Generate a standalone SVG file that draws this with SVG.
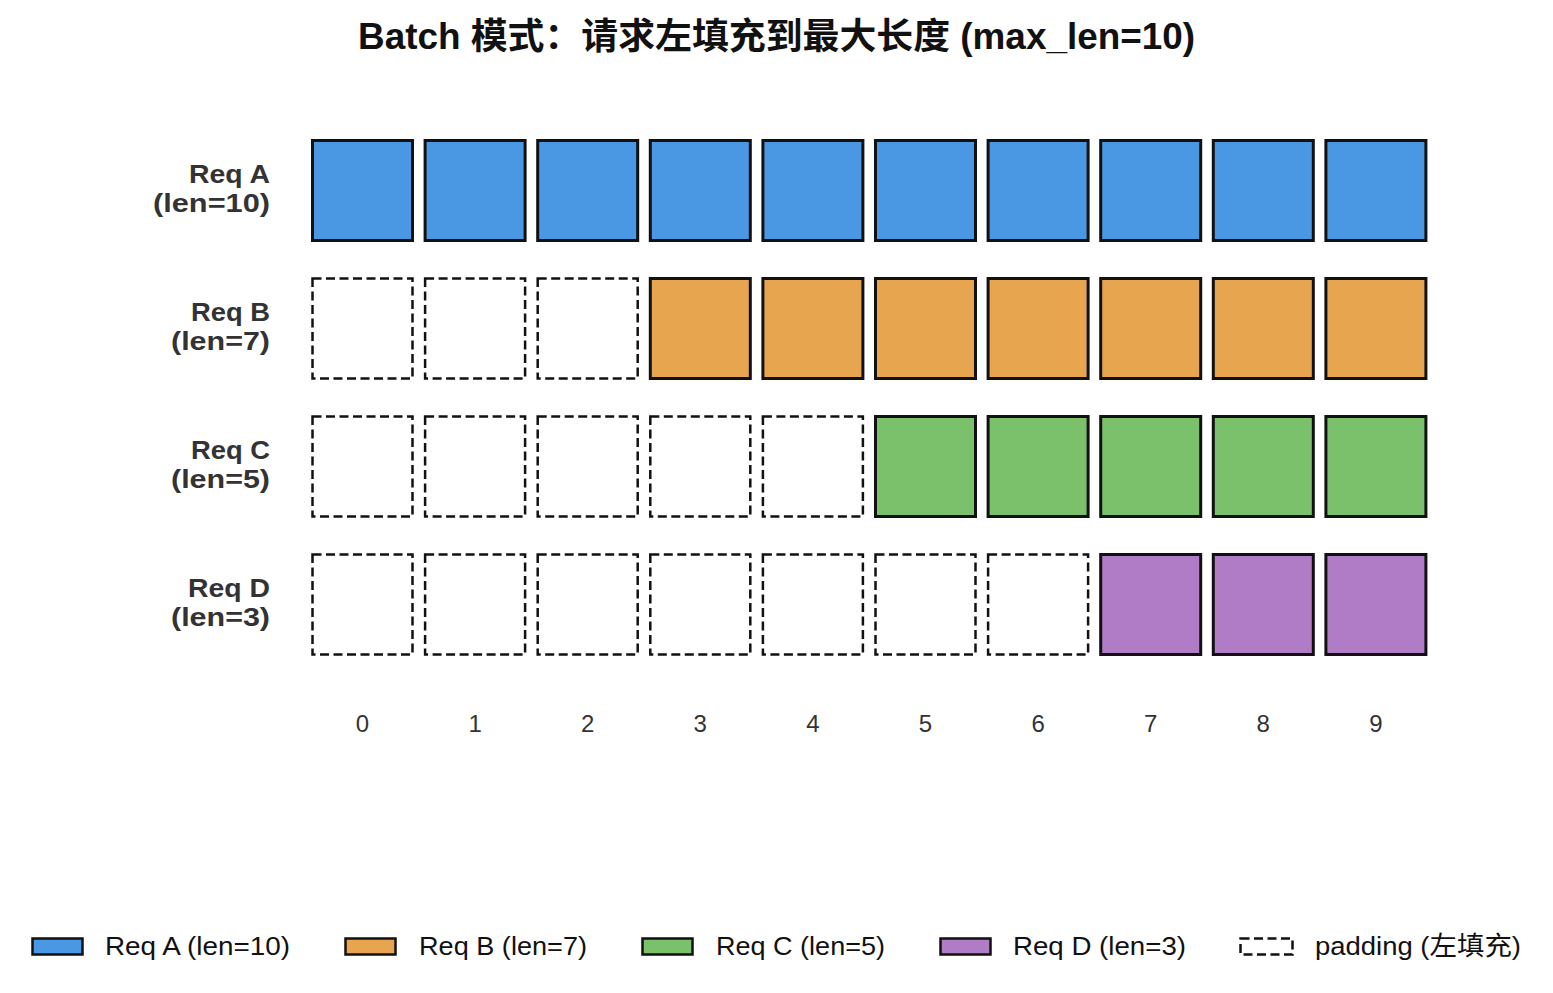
<svg xmlns="http://www.w3.org/2000/svg" width="1553" height="993" viewBox="0 0 1553 993">
<style>
text{font-family:"Liberation Sans","Noto Sans CJK SC",sans-serif}
.title{font-size:36px;font-weight:bold;fill:#111;text-anchor:middle}
.rl{font-size:26px;font-weight:bold;fill:#333;text-anchor:end}
.tick{font-size:24px;fill:#333;text-anchor:middle}
.lg{font-size:26px;fill:#111}
.c{stroke:#111;stroke-width:3}
.pad{fill:#fff;stroke:#111;stroke-width:2.5;stroke-dasharray:9 4.5}
.a{fill:#4A98E3}.b{fill:#E8A54F}.cc{fill:#7BC16B}.d{fill:#B07CC6}
</style>
<rect width="1553" height="993" fill="#fff"/>
<text class="title" x="776.5" y="49" textLength="837" lengthAdjust="spacingAndGlyphs">Batch 模式：请求左填充到最大长度 (max_len=10)</text>

<g id="labels">
<text class="rl" x="270" y="183" textLength="81" lengthAdjust="spacingAndGlyphs">Req A</text><text class="rl" x="270" y="212" textLength="117" lengthAdjust="spacingAndGlyphs">(len=10)</text>
<text class="rl" x="270" y="321" textLength="79" lengthAdjust="spacingAndGlyphs">Req B</text><text class="rl" x="270" y="350" textLength="99" lengthAdjust="spacingAndGlyphs">(len=7)</text>
<text class="rl" x="270" y="459" textLength="79" lengthAdjust="spacingAndGlyphs">Req C</text><text class="rl" x="270" y="488" textLength="99" lengthAdjust="spacingAndGlyphs">(len=5)</text>
<text class="rl" x="270" y="597" textLength="82" lengthAdjust="spacingAndGlyphs">Req D</text><text class="rl" x="270" y="626" textLength="99" lengthAdjust="spacingAndGlyphs">(len=3)</text>
</g>

<g id="rowA">
<rect class="c a" x="312.5" y="140.5" width="100" height="100"/>
<rect class="c a" x="425.1" y="140.5" width="100" height="100"/>
<rect class="c a" x="537.7" y="140.5" width="100" height="100"/>
<rect class="c a" x="650.3" y="140.5" width="100" height="100"/>
<rect class="c a" x="762.9" y="140.5" width="100" height="100"/>
<rect class="c a" x="875.5" y="140.5" width="100" height="100"/>
<rect class="c a" x="988.1" y="140.5" width="100" height="100"/>
<rect class="c a" x="1100.7" y="140.5" width="100" height="100"/>
<rect class="c a" x="1213.3" y="140.5" width="100" height="100"/>
<rect class="c a" x="1325.9" y="140.5" width="100" height="100"/>
</g>
<g id="rowB">
<rect class="pad" x="312.5" y="278.5" width="100" height="100"/>
<rect class="pad" x="425.1" y="278.5" width="100" height="100"/>
<rect class="pad" x="537.7" y="278.5" width="100" height="100"/>
<rect class="c b" x="650.3" y="278.5" width="100" height="100"/>
<rect class="c b" x="762.9" y="278.5" width="100" height="100"/>
<rect class="c b" x="875.5" y="278.5" width="100" height="100"/>
<rect class="c b" x="988.1" y="278.5" width="100" height="100"/>
<rect class="c b" x="1100.7" y="278.5" width="100" height="100"/>
<rect class="c b" x="1213.3" y="278.5" width="100" height="100"/>
<rect class="c b" x="1325.9" y="278.5" width="100" height="100"/>
</g>
<g id="rowC">
<rect class="pad" x="312.5" y="416.5" width="100" height="100"/>
<rect class="pad" x="425.1" y="416.5" width="100" height="100"/>
<rect class="pad" x="537.7" y="416.5" width="100" height="100"/>
<rect class="pad" x="650.3" y="416.5" width="100" height="100"/>
<rect class="pad" x="762.9" y="416.5" width="100" height="100"/>
<rect class="c cc" x="875.5" y="416.5" width="100" height="100"/>
<rect class="c cc" x="988.1" y="416.5" width="100" height="100"/>
<rect class="c cc" x="1100.7" y="416.5" width="100" height="100"/>
<rect class="c cc" x="1213.3" y="416.5" width="100" height="100"/>
<rect class="c cc" x="1325.9" y="416.5" width="100" height="100"/>
</g>
<g id="rowD">
<rect class="pad" x="312.5" y="554.5" width="100" height="100"/>
<rect class="pad" x="425.1" y="554.5" width="100" height="100"/>
<rect class="pad" x="537.7" y="554.5" width="100" height="100"/>
<rect class="pad" x="650.3" y="554.5" width="100" height="100"/>
<rect class="pad" x="762.9" y="554.5" width="100" height="100"/>
<rect class="pad" x="875.5" y="554.5" width="100" height="100"/>
<rect class="pad" x="988.1" y="554.5" width="100" height="100"/>
<rect class="c d" x="1100.7" y="554.5" width="100" height="100"/>
<rect class="c d" x="1213.3" y="554.5" width="100" height="100"/>
<rect class="c d" x="1325.9" y="554.5" width="100" height="100"/>
</g>

<g id="ticks">
<text class="tick" x="362.5" y="732">0</text>
<text class="tick" x="475.1" y="732">1</text>
<text class="tick" x="587.7" y="732">2</text>
<text class="tick" x="700.3" y="732">3</text>
<text class="tick" x="812.9" y="732">4</text>
<text class="tick" x="925.5" y="732">5</text>
<text class="tick" x="1038.1" y="732">6</text>
<text class="tick" x="1150.7" y="732">7</text>
<text class="tick" x="1263.3" y="732">8</text>
<text class="tick" x="1375.9" y="732">9</text>
</g>

<g id="legend">
<rect class="c a" x="32.5" y="938.5" width="50" height="16" style="stroke-width:2.5"/>
<text class="lg" x="105" y="955" textLength="185" lengthAdjust="spacingAndGlyphs">Req A (len=10)</text>
<rect class="c b" x="345.5" y="938.5" width="50" height="16" style="stroke-width:2.5"/>
<text class="lg" x="419" y="955" textLength="168" lengthAdjust="spacingAndGlyphs">Req B (len=7)</text>
<rect class="c cc" x="642.5" y="938.5" width="50" height="16" style="stroke-width:2.5"/>
<text class="lg" x="716" y="955" textLength="169" lengthAdjust="spacingAndGlyphs">Req C (len=5)</text>
<rect class="c d" x="940.5" y="938.5" width="50" height="16" style="stroke-width:2.5"/>
<text class="lg" x="1013" y="955" textLength="173" lengthAdjust="spacingAndGlyphs">Req D (len=3)</text>
<rect class="pad" x="1240.5" y="938.5" width="52" height="16"/>
<text class="lg" x="1315" y="955" textLength="206" lengthAdjust="spacingAndGlyphs">padding (左填充)</text>
</g>
</svg>
